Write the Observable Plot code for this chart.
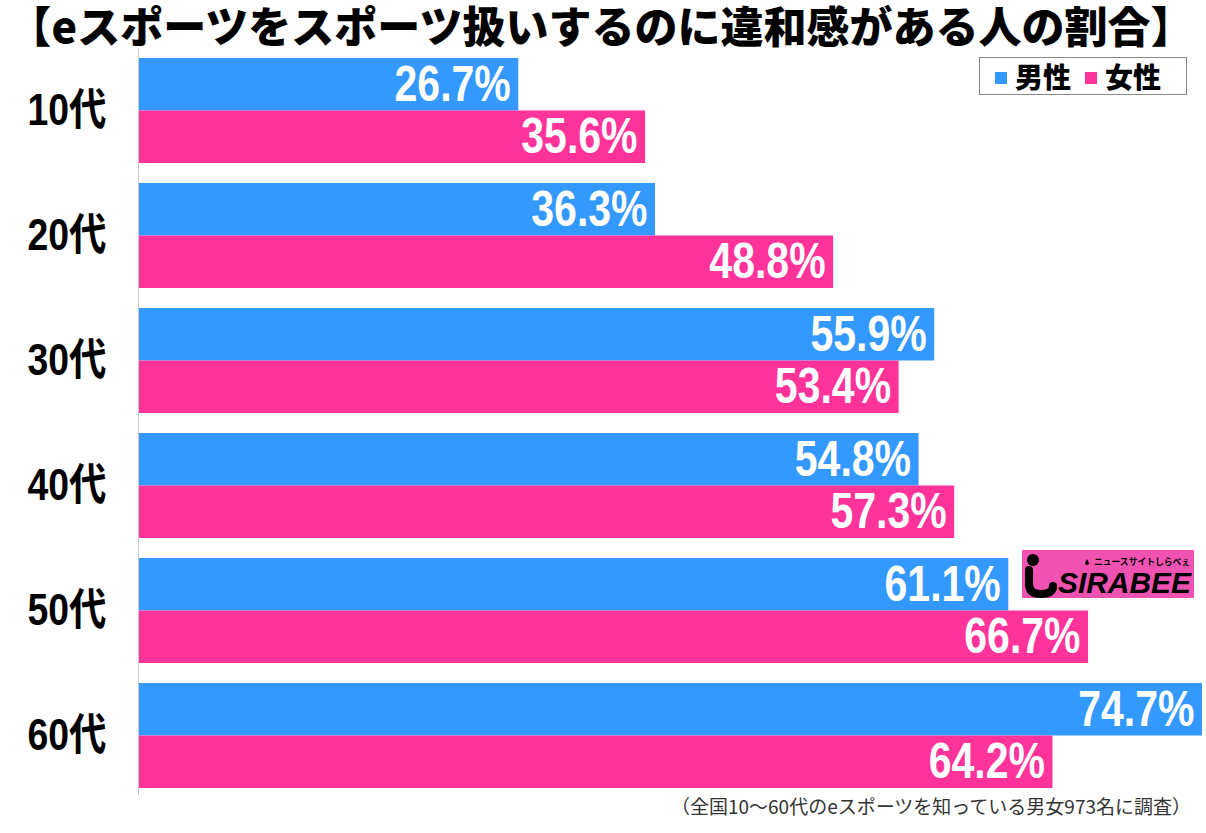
<!DOCTYPE html>
<html>
<head>
<meta charset="utf-8">
<script src="https://cdn.jsdelivr.net/npm/d3@7"></script>
<script src="https://cdn.jsdelivr.net/npm/@observablehq/plot@0.6"></script>
<style>
  html, body { margin: 0; padding: 0; background: #fff; }
  #wrap { position: relative; width: 1206px; height: 833px; overflow: hidden; background: #fff; }
  #chart { position: absolute; left: 0; top: 0; }
  .title { position: absolute; left: 0; top: 0; overflow: visible; }
  .legend { position: absolute; left: 979px; top: 57px; width: 206px; height: 36px; border: 1px solid #888; background: #fff;
    font-family: "Noto Sans CJK JP", sans-serif; font-weight: 900; font-size: 28px; line-height: 36px; color: #000; white-space: nowrap; }
  .legend .sw { display: inline-block; width: 12px; height: 12px; vertical-align: middle; margin: 0 8px 4px 0; }
  .note { position: absolute; right: 15px; top: 792px; font-family: "Noto Sans CJK JP", sans-serif; font-size: 19px; color: #333; white-space: nowrap; }
  .logo { position: absolute; left: 1022px; top: 550px; width: 172px; height: 48px; background: #f052b2; }
  .logo svg { overflow: visible; }
</style>
</head>
<body>
<div id="wrap">
  <div id="chart"></div>
  <svg class="title" width="1206" height="62">
    <text x="601" y="43" text-anchor="middle" font-family="Noto Sans CJK JP, sans-serif" font-weight="900" font-size="43" fill="#000">【eスポーツをスポーツ扱いするのに違和感がある人の割合】</text>
  </svg>
  <div class="legend"><span style="margin-left:15px"></span><span class="sw" style="background:#3399ff"></span>男性<span style="margin-left:14px"></span><span class="sw" style="background:#ff3399"></span>女性</div>
  <div class="logo">
    <svg width="172" height="48" viewBox="0 0 172 48">
      <circle cx="11" cy="10" r="6" fill="#000"/>
      <path d="M7 20 L7 34 Q7 44 19 44 Q31 44 31 36" fill="none" stroke="#000" stroke-width="8" stroke-linecap="round"/>
      <path d="M63 13 q2 -4 2 -4 q0 0 2 4 a2 2 0 1 1 -4 0z" fill="#000"/>
      <text x="72" y="15" font-family="Noto Sans CJK JP, sans-serif" font-size="9" font-weight="700" fill="#000" textLength="96" lengthAdjust="spacingAndGlyphs">ニュースサイトしらべぇ</text>
      <text x="36" y="43" font-family="Liberation Sans, sans-serif" font-size="29" font-weight="900" font-style="italic" fill="#000" textLength="133" lengthAdjust="spacingAndGlyphs">SIRABEE</text>
    </svg>
  </div>
  <div class="note">（全国10～60代のeスポーツを知っている男女973名に調査）</div>
</div>
<script>
const ages = ["10代", "20代", "30代", "40代", "50代", "60代"];
const male = [26.7, 36.3, 55.9, 54.8, 61.1, 74.7];
const female = [35.6, 48.8, 53.4, 57.3, 66.7, 64.2];
const blue = "#3399ff";
const pink = "#ff3399";

const maleRows = ages.map((a, i) => ({age: a, v: male[i]}));
const femaleRows = ages.map((a, i) => ({age: a, v: female[i]}));

const half = 52.5;
const labelFont = "'Liberation Sans', Arial, sans-serif";
const fmt = d => d.v.toFixed(1) + "%";

const chart = Plot.plot({
  width: 1206,
  height: 833,
  marginTop: 58,
  marginBottom: 45,
  marginLeft: 138,
  marginRight: 4,
  style: {background: "transparent", overflow: "visible"},
  x: {domain: [0, 74.7], axis: null},
  y: {domain: ages, axis: null, paddingInner: 0.16, paddingOuter: 0},
  marks: [
    Plot.barX(maleRows, {x: "v", y: "age", fill: blue, insetBottom: half}),
    Plot.barX(femaleRows, {x: "v", y: "age", fill: pink, insetTop: half}),
    Plot.ruleX([0], {stroke: "#c8c8c8", strokeWidth: 1, insetTop: -10, insetBottom: -7}),
    Plot.text(maleRows, {x: "v", y: "age", text: fmt, dy: -half / 2, dx: -8, textAnchor: "end",
      fill: "white", fontSize: 50, fontWeight: "bold", fontFamily: labelFont}),
    Plot.text(femaleRows, {x: "v", y: "age", text: fmt, dy: half / 2, dx: -8, textAnchor: "end",
      fill: "white", fontSize: 50, fontWeight: "bold", fontFamily: labelFont}),
    Plot.text(ages, {x: () => 0, y: d => d, text: d => d, textAnchor: "end", dx: -32,
      fill: "#000", fontSize: 44, fontWeight: "bold", fontFamily: "'Liberation Sans', 'Noto Sans CJK JP', sans-serif"})
  ]
});
document.getElementById("chart").appendChild(chart);

// condense the label glyphs horizontally, like the reference's narrow face
const textGroups = chart.querySelectorAll('g[aria-label="text"]');
const squeeze = (g, s) => g.querySelectorAll("text").forEach(t => {
  const tr = t.getAttribute("transform") || "";
  t.setAttribute("transform", tr + ` scale(${s},1)`);
});
squeeze(textGroups[0], 0.82);
squeeze(textGroups[1], 0.82);
squeeze(textGroups[2], 0.85);
</script>
</body>
</html>
